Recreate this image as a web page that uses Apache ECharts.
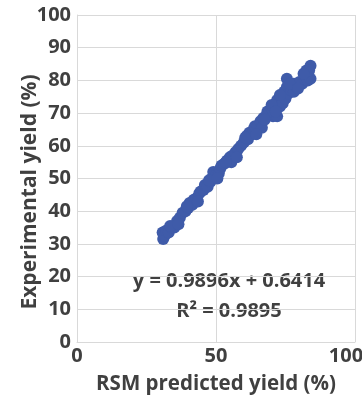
<!DOCTYPE html>
<html>
<head>
<meta charset="utf-8">
<script src="https://cdn.jsdelivr.net/npm/echarts@6/dist/echarts.min.js"></script>
<style>
  html, body { margin: 0; padding: 0; background: #fff; }
  #chart { width: 362px; height: 396px; }
</style>
</head>
<body>
<div id="chart"></div>
<script>
// predicted vs experimental yield
var predicted = [31, 30.8, 31.5, 32, 33, 34, 35, 36, 37, 38, 39, 40, 40.5, 41.5, 42, 43, 44, 44.5, 45.5, 46,
  47, 48, 48.5, 49, 50, 51, 51.5, 52, 53, 54, 55, 55.5, 56, 57, 58, 59, 60, 61, 61.5, 62,
  63, 63.5, 64, 65, 66, 66.5, 67, 68, 68.5, 69, 70, 70.5, 71, 72, 72, 73, 73.5, 74, 74.5, 75,
  75.5, 75.5, 76, 77, 78, 78, 79, 80, 81, 82, 82.5, 83, 84, 84, 83.5,
  33.5, 36.5, 39.5, 43.5, 47.5, 50.5, 53.5, 57.5, 60.5, 64.5, 67.5, 70, 71.5, 73, 76.5, 79.5, 81.5];
var experimental = [31.5, 33.5, 32.5, 34, 33.5, 35, 35, 37, 38, 39.5, 40, 41, 42.5, 42, 43.5, 44, 45.5, 46, 46.5, 48,
  47.5, 49, 50, 52, 51, 51.5, 53, 54, 54.5, 55.5, 56.5, 55, 57, 58, 59, 60, 61, 63, 62, 64,
  63.5, 65, 66, 66, 67.5, 65.5, 68.5, 69, 70.5, 70, 71.5, 69, 72.5, 69, 74, 72, 75, 73, 76.5, 74.5,
  78, 80.5, 76, 77, 76.5, 79, 78, 79.5, 79, 81.5, 83, 80, 80.5, 84.5, 83,
  35.5, 36, 41.5, 43, 49.5, 50, 55, 56.5, 62.5, 63.5, 68, 72.5, 70.5, 75.5, 79, 77.5, 82];
var xTicks = [0, 50, 100];
var yTicks = [0, 10, 20, 30, 40, 50, 60, 70, 80, 90, 100];
var eqLines = ['y = 0.9896x + 0.6414', 'R² = 0.9895'];

var points = [];
for (var i = 0; i < predicted.length; i++) {
  points.push([predicted[i], experimental[i]]);
}

var txt = '#404040';
var fnt = '"Open Sans", sans-serif';

var chart = echarts.init(document.getElementById('chart'));
chart.setOption({
  animation: false,
  grid: { left: 77, right: 7, top: 15, bottom: 54, containLabel: false, outerBoundsMode: 'none' },
  xAxis: {
    type: 'value', min: xTicks[0], max: xTicks[xTicks.length - 1], interval: 50,
    name: 'RSM predicted yield (%)', nameLocation: 'middle', nameGap: 32,
    nameTextStyle: { color: txt, fontFamily: fnt, fontWeight: 'bold', fontSize: 20.5 },
    axisLine: { show: true, lineStyle: { color: '#d9d9d9' } },
    axisTick: { show: false },
    splitLine: { lineStyle: { color: '#d9d9d9' } },
    axisLabel: {
      color: txt, fontFamily: fnt, fontWeight: 'bold', fontSize: 20, margin: 4,
      // last label sits pulled in from the right edge like the original
      formatter: function (v) { return v === 100 ? '{r|' + v + '}' : String(v); },
      rich: { r: { color: txt, fontFamily: fnt, fontWeight: 'bold', fontSize: 20, padding: [0, 18, 0, 0] } }
    }
  },
  yAxis: {
    type: 'value', min: yTicks[0], max: yTicks[yTicks.length - 1], interval: 10,
    name: 'Experimental yield (%)', nameLocation: 'middle', nameGap: 36, nameMoveOverlap: false,
    nameTextStyle: { color: txt, fontFamily: fnt, fontWeight: 'bold', fontSize: 21, padding: [0, 27, 0, 0] },
    axisLine: { show: true, lineStyle: { color: '#d9d9d9' } },
    axisTick: { show: false },
    splitLine: { lineStyle: { color: '#d9d9d9' } },
    axisLabel: { color: txt, fontFamily: fnt, fontWeight: 'bold', fontSize: 20, margin: 6 }
  },
  graphic: [{
    type: 'text', x: 229, y: 266,
    style: { text: eqLines.join('\n'), fill: txt, font: 'bold 20px "Open Sans", sans-serif', align: 'center', lineHeight: 30 }
  }],
  series: [{
    type: 'scatter',
    data: points,
    symbolSize: 12,
    itemStyle: { color: '#3f5ba9', opacity: 1 }
  }]
});
</script>
</body>
</html>
